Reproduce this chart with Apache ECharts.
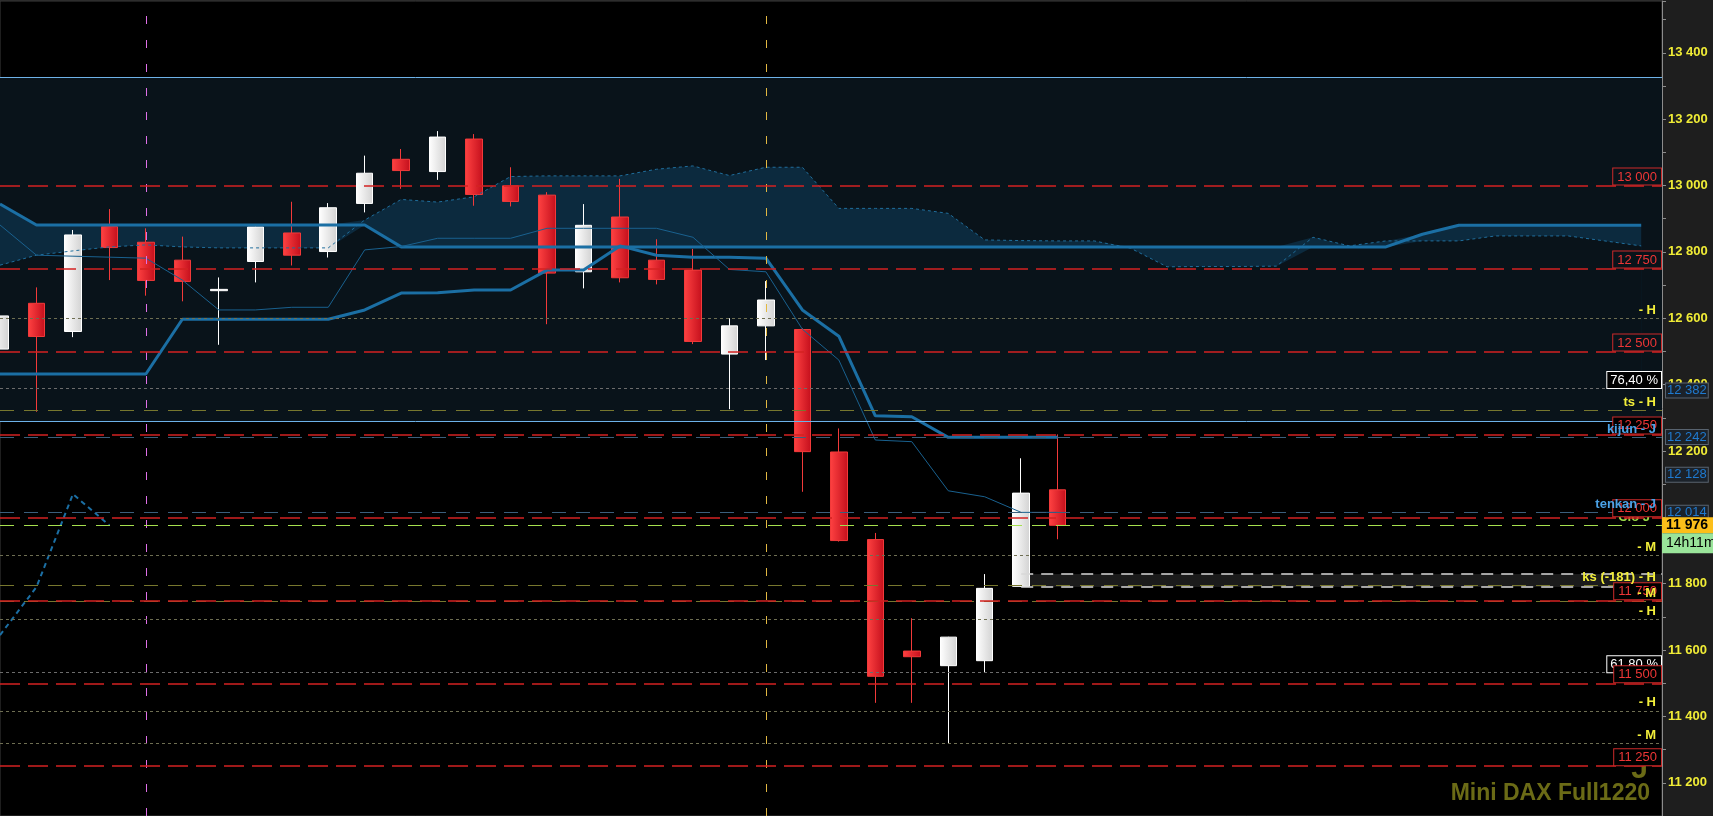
<!DOCTYPE html>
<html>
<head>
<meta charset="utf-8">
<title>Mini DAX Full1220</title>
<script src="https://cdn.jsdelivr.net/npm/echarts@6.0.0/dist/echarts.min.js"></script>
<style>
html,body{margin:0;padding:0;background:#1e1e1e;overflow:hidden;}
#chart{width:1713px;height:816px;}
</style>
</head>
<body>
<div id="chart"></div>
<script>
// ---------------- data ----------------
const opens  = [12507, 12645, 12560, 12876, 12829, 12775, 12683, 12771, 12857, 12801, 12946, 13079, 13042, 13140, 12999, 12971, 12740, 12905, 12775, 12745, 12492, 12577, 12566, 12197, 11933, 11597, 11553, 11568, 11792, 12083];
const closes = [12607, 12545, 12851, 12813, 12714, 12711, 12687, 12875, 12790, 12933, 13037, 13045, 13146, 12973, 12952, 12736, 12880, 12722, 12717, 12530, 12577, 12655, 12198, 11930, 11521, 11580, 11639, 11786, 12073, 11976];
const lows   = [12490, 12318, 12543, 12715, 12668, 12651, 12520, 12708, 12759, 12783, 12919, 12990, 13017, 12939, 12937, 12582, 12690, 12708, 12702, 12522, 12326, 12474, 12077, 11927, 11441, 11441, 11320, 11532, 11790, 11934];
const highs  = [12620, 12693, 12866, 12929, 12871, 12846, 12723, 12876, 12951, 12947, 13090, 13110, 13164, 13155, 13055, 12980, 12944, 13020, 12838, 12809, 12600, 12712, 12570, 12268, 11953, 11696, 11640, 11829, 12178, 12250];

const senkouA = [12760, 12790, 12803, 12815, 12821, 12815, 12812, 12812, 12812, 12812, 12896, 12958, 12950, 12966, 13027, 13029, 13029, 13029, 13049, 13059, 13030, 13055, 13055, 12931, 12931, 12931, 12916, 12836, 12834, 12833, 12833, 12811, 12755, 12756, 12756, 12757, 12844, 12818, 12833, 12833, 12833, 12848, 12848, 12848, 12833, 12818];
const senkouB = [12944, 12881, 12881, 12881, 12881, 12881, 12881, 12881, 12881, 12881, 12881, 12815, 12815, 12815, 12815, 12815, 12815, 12815, 12815, 12815, 12815, 12815, 12815, 12815, 12815, 12815, 12815, 12815, 12815, 12815, 12815, 12815, 12815, 12815, 12815, 12815, 12815, 12815, 12815, 12853, 12880, 12880, 12880, 12880, 12880, 12880];
const kijun   = [12432, 12432, 12432, 12432, 12432, 12597, 12597, 12597, 12597, 12597, 12625, 12676, 12677, 12685, 12685, 12745, 12745, 12818, 12790, 12784, 12784, 12781, 12625, 12546, 12306, 12303, 12241, 12241, 12241, 12241];
const tenkan  = [12881, 12790, 12787, 12784, 12781, 12715, 12625, 12625, 12633, 12633, 12806, 12816, 12841, 12841, 12841, 12871, 12871, 12871, 12871, 12844, 12747, 12740, 12567, 12474, 12233, 12228, 12080, 12062, 12015, 12015];
const chikou  = [11645, 11790, 12070, 11976];

const roundLevels = [13000, 12750, 12500, 12250, 12000, 11750, 11500, 11250];
const pivotLevels = [12600, 11886, 11692, 11417, 11318, 11091];
const pivotLabels = ['- H', '- M', '- H', '- H', '- M', '- M'];
const longLevels  = [12323, 11796, 11748];
const longLabels  = ['ts - H', 'ks (-181) - H', '- M'];
const fibLevels   = [12388, 11532];
const fibLabels   = ['76,40 %', '61,80 %'];
const kijunLevel  = 12242;
const tenkanLevel = 12014;
const lastClose   = 11976;
const lastTime    = '14h11m';
const tagLevels   = [12382, 12242, 12128, 12014];
const ksBand      = [11790, 11829];
const ksStart     = 28;
const zoneBand    = [12290, 13326];
const markerBars  = [4, 21];
const titleText   = 'Mini DAX Full1220';
const periodText  = 'J';

// axis ranges
const yMin = 11100, yMax = 13556, yStep = 100;
const xMax = 45.57;

// ---------------- helpers ----------------
const F = 'Liberation Sans, Arial, sans-serif';
const fmt = v => String(v).replace(/\B(?=(\d{3})+(?!\d))/g, ' ');
const withIdx = arr => arr.map((v, i) => [i, v]);
const NONE = 'rgba(0,0,0,0)';
const ZONE = '#09131a';

const redGrad = new echarts.graphic.LinearGradient(0, 0, 1, 0, [
  {offset: 0, color: '#ff4242'}, {offset: 1, color: '#c40f1c'}]);
const whiteGrad = new echarts.graphic.LinearGradient(0, 0, 1, 0, [
  {offset: 0, color: '#ffffff'}, {offset: 1, color: '#d2d2d2'}]);

function tagLabel(text, color, dist) {
  return {show: true, position: 'insideEndTop', distance: dist || [6, 1.5], formatter: text,
          color: color, fontWeight: 'bold', fontSize: 13, fontFamily: F};
}

const kumoTop = senkouA.map((a, i) => [i, Math.max(a, senkouB[i])]);
const kumoBottom = senkouA.map((a, i) => [i, Math.min(a, senkouB[i])]);

const chart = echarts.init(document.getElementById('chart'), null, {renderer: 'canvas'});

const option = {
  backgroundColor: '#1e1e1e',
  animation: false,
  grid: {left: 0, right: 51, top: 1, bottom: 0, show: true, backgroundColor: '#000000',
         borderColor: '#3c3c3c', borderWidth: 1, containLabel: false, outerBoundsMode: 'none'},
  xAxis: {type: 'value', min: 0, max: xMax, show: false},
  yAxis: {
    type: 'value', position: 'right', min: yMin, max: yMax, interval: yStep,
    axisLine: {show: true, onZero: false, lineStyle: {color: '#8c8c8c', width: 1}},
    axisTick: {show: true, length: 4, lineStyle: {color: '#8c8c8c'}},
    splitLine: {show: false},
    axisLabel: {
      margin: 6, color: '#f0ec36', fontWeight: 'bold', fontSize: 13, fontFamily: F,
      formatter: v => (v % 200 === 0 ? fmt(v) : '')
    }
  },
  graphic: [
    {type: 'text', right: 65, bottom: 31, z: 5, silent: true,
     style: {text: periodText, fill: '#6b6b16', font: 'bold 30px ' + F}},
    {type: 'text', right: 63, bottom: 11, z: 5, silent: true,
     style: {text: titleText, fill: '#6b6b16', font: 'bold 23px ' + F}}
  ],
  series: [
    // Kumo: fill under the upper span (down to zone bottom), then repaint under the lower span with zone colour
    {name: 'kumoTop', type: 'line', silent: true, z: 1.6, symbol: 'none', data: kumoTop,
     lineStyle: {width: 0, color: NONE},
     areaStyle: {color: '#0c2a3e', opacity: 1, origin: zoneBand[0]}},
    {name: 'kumoBottom', type: 'line', silent: true, z: 1.7, symbol: 'none', data: kumoBottom,
     lineStyle: {width: 0, color: NONE},
     areaStyle: {color: ZONE, opacity: 1, origin: zoneBand[0]}},
    // candles
    {name: 'candles', type: 'candlestick', silent: true, z: 2, barWidth: 17,
     data: opens.map((o, i) => [i, o, closes[i], lows[i], highs[i]]),
     itemStyle: {color: whiteGrad, color0: redGrad, borderColor: '#ffffff', borderColor0: '#f23a3a', borderWidth: 1}},
    // Senkou A (dashed) + non-red horizontal levels
    {name: 'senkouA', type: 'line', silent: true, z: 3, symbol: 'none', data: withIdx(senkouA),
     lineStyle: {color: '#206e9c', width: 1, type: [3, 3]},
     markLine: {
       silent: true, z: 4, symbol: ['none', 'none'], animation: false, label: {show: false},
       data: [
         {yAxis: zoneBand[1], lineStyle: {color: '#6eb2e8', type: 'solid', width: 1}},
         {yAxis: zoneBand[0], lineStyle: {color: '#6eb2e8', type: 'solid', width: 1}},
         ...pivotLevels.map(v => ({yAxis: v, lineStyle: {color: '#6e6e52', type: [3, 3], width: 1}})),
         ...longLevels.map(v => ({yAxis: v, lineStyle: {color: '#77772e', type: [14, 10], width: 1}})),
         ...fibLevels.map((v, i) => ({yAxis: v, lineStyle: {color: '#6c6c6c', type: [3, 3], width: 1},
           label: {show: true, position: 'insideEndTop', distance: [1, 0.5], formatter: fibLabels[i],
                   color: '#ffffff', fontSize: 13, fontFamily: F, backgroundColor: '#000000',
                   borderColor: '#ffffff', borderWidth: 1, padding: [2, 3, 1, 3]}})),
         {yAxis: kijunLevel, lineStyle: {color: '#3b5f7c', type: [14, 10], width: 1}},
         {yAxis: tenkanLevel, lineStyle: {color: '#3b5f7c', type: [14, 10], width: 1}},
         {yAxis: lastClose, lineStyle: {color: '#a6e04e', type: [14, 10], width: 1},
          label: tagLabel('Clô J', '#98d848', [12, 1])},
         [{xAxis: ksStart, yAxis: ksBand[1], lineStyle: {color: '#d8d8d8', type: [12, 8], width: 1.5}},
          {xAxis: xMax, yAxis: ksBand[1]}],
         [{xAxis: ksStart, yAxis: ksBand[0], lineStyle: {color: '#d8d8d8', type: [12, 8], width: 1.5}},
          {xAxis: xMax, yAxis: ksBand[0]}]
       ]
     }},
    // Senkou B (thick) + zone / ks band areas + round-number red levels
    {name: 'senkouB', type: 'line', silent: true, z: 3, symbol: 'none', data: withIdx(senkouB),
     lineStyle: {color: '#1b6fa4', width: 3},
     markArea: {
       silent: true, z: 0.5, label: {show: false},
       data: [
         [{xAxis: 0, yAxis: zoneBand[0], itemStyle: {color: ZONE}},
          {xAxis: xMax, yAxis: zoneBand[1], itemStyle: {color: ZONE}}],
         [{xAxis: ksStart, yAxis: ksBand[0], itemStyle: {color: '#1b1b1b'}},
          {xAxis: xMax, yAxis: ksBand[1], itemStyle: {color: '#1b1b1b'}}]
       ]
     },
     markLine: {
       silent: true, z: 6, symbol: ['none', 'none'], animation: false,
       data: roundLevels.map(v => ({
         yAxis: v, lineStyle: {color: '#d42222', type: [20, 8], width: 1.5},
         label: {show: true, position: 'insideEndTop', distance: [1, 1], formatter: fmt(v),
                 color: '#ee3636', fontSize: 13, fontFamily: F,
                 backgroundColor: (v >= zoneBand[0] && v <= zoneBand[1]) ? ZONE : '#000000',
                 borderColor: '#cc2a2a', borderWidth: 1, padding: [2, 4, 1, 4]}
       }))
     }},
    // Kijun (thick) + text labels of the levels
    {name: 'kijun', type: 'line', silent: true, z: 3, symbol: 'none', data: withIdx(kijun),
     lineStyle: {color: '#1b6fa4', width: 3},
     markLine: {
       silent: true, z: 7, symbol: ['none', 'none'], animation: false,
       data: [
         ...pivotLevels.map((v, i) => ({yAxis: v, lineStyle: {color: NONE, width: 1}, label: tagLabel(pivotLabels[i], '#f2ee3a')})),
         ...longLevels.map((v, i) => ({yAxis: v, lineStyle: {color: NONE, width: 1}, label: tagLabel(longLabels[i], '#f2ee3a')})),
         {yAxis: kijunLevel, lineStyle: {color: NONE, width: 1}, label: tagLabel('kijun - J', '#4aa2e6')},
         {yAxis: tenkanLevel, lineStyle: {color: NONE, width: 1}, label: tagLabel('tenkan - J', '#4aa2e6')}
       ]
     }},
    // Tenkan (thin) + price tags on the axis
    {name: 'tenkan', type: 'line', silent: true, z: 3, symbol: 'none', clip: false, data: withIdx(tenkan),
     lineStyle: {color: '#19618f', width: 1},
     markLine: {
       silent: true, z: 8, symbol: ['none', 'none'], animation: false,
       data: [
         ...tagLevels.map(v => ({yAxis: v, lineStyle: {color: NONE, width: 1},
           label: {show: true, position: 'end', distance: [4, 0], formatter: fmt(v), color: '#1f7ad0',
                   fontSize: 13, fontFamily: F, backgroundColor: '#1b222a', borderColor: '#58636f',
                   borderWidth: 1, padding: [1, 1, 0, 1]}})),
         {yAxis: lastClose, lineStyle: {color: NONE, width: 1},
          label: {show: true, position: 'end', distance: [0, 0],
                  formatter: '{s| }\n{a|' + fmt(lastClose) + '}\n{b|' + lastTime + '}',
                  rich: {
                    s: {height: 20, lineHeight: 20, fontSize: 10, color: NONE, width: 52},
                    a: {height: 16, lineHeight: 16, width: 48, padding: [0, 0, 0, 4], backgroundColor: '#fcbf1a',
                        color: '#000000', fontWeight: 'bold', fontSize: 14, fontFamily: F},
                    b: {height: 20, lineHeight: 20, width: 48, padding: [0, 0, 0, 4], backgroundColor: '#9ae49a',
                        color: '#000000', fontSize: 14, fontFamily: F}
                  }}}
       ]
     }},
    // Chikou (dashed) + vertical markers
    {name: 'chikou', type: 'line', silent: true, z: 3, symbol: 'none', data: withIdx(chikou),
     lineStyle: {color: '#1b6fa4', width: 2, type: [5, 4]},
     markLine: {
       silent: true, z: 3.5, symbol: ['none', 'none'], animation: false, label: {show: false},
       data: markerBars.map((b, i) => ({xAxis: b, lineStyle: {color: i === 0 ? '#e070e8' : '#e2b842', type: [8, 16], width: 1}}))
     }}
  ]
};
chart.setOption(option);
</script>
</body>
</html>
